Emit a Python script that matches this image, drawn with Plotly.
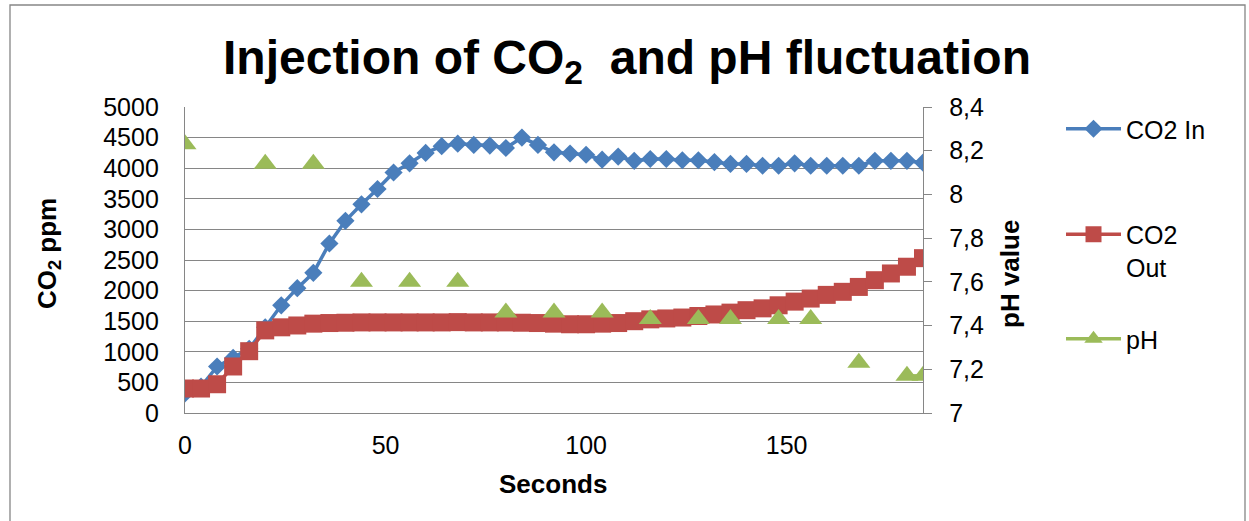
import plotly.graph_objects as go

# Sampling times (s)
seconds = list(range(0, 185, 4))

# CO2 concentration at the inlet (ppm)
co2_in = [320, 430, 760, 900, 1050, 1400, 1760, 2040, 2290, 2770,
          3140, 3410, 3660, 3930, 4080, 4250, 4360, 4400, 4380, 4370,
          4330, 4500, 4380, 4260, 4240, 4220, 4140, 4190, 4120, 4150,
          4150, 4130, 4130, 4100, 4070, 4070, 4040, 4040, 4080, 4040,
          4040, 4040, 4040, 4120, 4120, 4120, 4090]

# CO2 concentration at the outlet (ppm)
co2_out = [400, 400, 470, 760, 1010, 1350, 1400, 1430, 1460, 1470,
           1475, 1480, 1480, 1480, 1480, 1480, 1480, 1485, 1480, 1480,
           1480, 1475, 1470, 1460, 1450, 1450, 1460, 1470, 1500, 1530,
           1545, 1560, 1585, 1610, 1640, 1680, 1710, 1760, 1820, 1870,
           1930, 1980, 2060, 2170, 2280, 2390, 2530]

# pH readings (only taken at some sampling times)
ph_readings = {0: 8.23, 20: 8.14, 32: 8.14, 44: 7.60, 56: 7.60, 68: 7.60,
               80: 7.46, 92: 7.46, 104: 7.46, 116: 7.43, 128: 7.43,
               136: 7.43, 148: 7.43, 156: 7.43, 168: 7.23, 180: 7.17,
               184: 7.17}
ph = [ph_readings.get(s) for s in seconds]

BLUE = "#4A7EBB"
RED = "#BE4B48"
GREEN = "#9BBB59"
GRID = "#868686"
FONT = "Liberation Sans, Arial, sans-serif"

W, H = 1249, 521
L, R, T, B = 185, 326, 107, 108
PW, PH = W - L - R, H - T - B


def px_to_paper_x(px):
    return (px - L) / PW


def px_to_paper_y(py):
    return (H - B - py) / PH


fig = go.Figure()

fig.add_trace(go.Scatter(
    x=seconds, y=co2_in, name="CO2 In", mode="lines+markers",
    line=dict(color=BLUE, width=3.5),
    marker=dict(symbol="diamond", size=14, color=BLUE),
    legendgroup="a", legend="legend",
))
fig.add_trace(go.Scatter(
    x=seconds, y=co2_out, name="CO2<br>Out", mode="lines+markers",
    line=dict(color=RED, width=3.5),
    marker=dict(symbol="square", size=18, color=RED),
    legendgroup="b", legend="legend",
))
fig.add_trace(go.Scatter(
    x=seconds, y=ph, name="pH", mode="lines+markers", yaxis="y2",
    connectgaps=False,
    line=dict(color=GREEN, width=3.5),
    marker=dict(symbol="triangle-up", size=20, color=GREEN),
    legendgroup="c", legend="legend2",
))

legend_font = dict(family=FONT, size=25)

fig.update_layout(
    width=W, height=H,
    margin=dict(l=L, r=R, t=T, b=B, pad=0),
    paper_bgcolor="white", plot_bgcolor="white",
    separators=", ",
    font=dict(family=FONT, size=25, color="black"),
    title=dict(
        text="Injection of CO<sub>2</sub>  and pH fluctuation",
        x=627 / W, xref="container", xanchor="center",
        y=1 - 57 / H, yref="container", yanchor="middle",
        font=dict(family=FONT, size=48, color="black", weight="bold"),
    ),
    xaxis=dict(
        range=[0, 184], tick0=0, dtick=50,
        showgrid=False, zeroline=False,
        showline=True, linecolor=GRID, linewidth=1.3,
        ticks="", ticklabelstandoff=10,
        tickfont=dict(size=25),
    ),
    yaxis=dict(
        range=[0, 5000], dtick=500,
        showgrid=True, gridcolor=GRID, gridwidth=1.3,
        zeroline=False,
        showline=True, linecolor=GRID, linewidth=1.3,
        ticks="", ticklabelstandoff=20,
        tickfont=dict(size=25),
    ),
    yaxis2=dict(
        range=[7, 8.4], dtick=0.2, overlaying="y", side="right",
        showgrid=False, zeroline=False,
        showline=True, linecolor=GRID, linewidth=1.3,
        ticks="outside", ticklen=8, tickcolor=GRID, tickwidth=1.3,
        ticklabelstandoff=12,
        tickfont=dict(size=25),
    ),
    legend=dict(
        x=px_to_paper_x(1061), y=px_to_paper_y(106),
        xanchor="left", yanchor="top",
        tracegroupgap=70, valign="top", itemwidth=55,
        font=legend_font, bgcolor="rgba(0,0,0,0)",
    ),
    legend2=dict(
        x=px_to_paper_x(1061), y=px_to_paper_y(316),
        xanchor="left", yanchor="top",
        valign="top", itemwidth=55,
        font=legend_font, bgcolor="rgba(0,0,0,0)",
    ),
    showlegend=True,
)

# Axis titles
fig.add_annotation(
    text="Seconds", xref="paper", yref="paper",
    x=px_to_paper_x(553), y=px_to_paper_y(484),
    showarrow=False, font=dict(family=FONT, size=26, weight="bold"),
    xanchor="center", yanchor="middle",
)
fig.add_annotation(
    text="CO<sub>2</sub> ppm", xref="paper", yref="paper",
    x=px_to_paper_x(48), y=px_to_paper_y(254),
    showarrow=False, textangle=-90,
    font=dict(family=FONT, size=26, weight="bold"),
    xanchor="center", yanchor="middle",
)
fig.add_annotation(
    text="pH value", xref="paper", yref="paper",
    x=px_to_paper_x(1010), y=px_to_paper_y(274),
    showarrow=False, textangle=-90,
    font=dict(family=FONT, size=26, weight="bold"),
    xanchor="center", yanchor="middle",
)

# Chart frame
fig.add_shape(
    type="rect", xref="paper", yref="paper",
    x0=px_to_paper_x(10), x1=px_to_paper_x(1245),
    y0=px_to_paper_y(540), y1=px_to_paper_y(5),
    line=dict(color=GRID, width=1.3), fillcolor="rgba(0,0,0,0)",
    layer="below",
)

fig.write_html("out.html")
